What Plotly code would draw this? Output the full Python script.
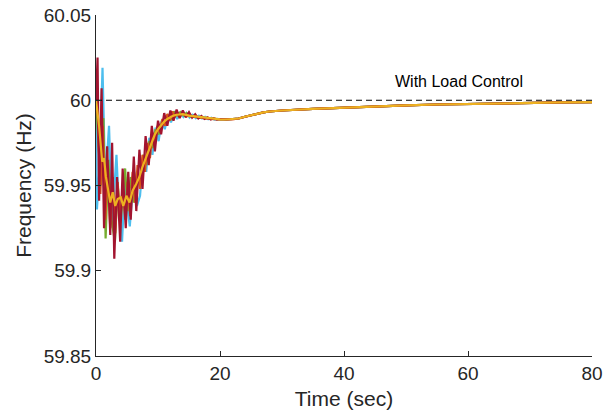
import plotly.graph_objects as go

# ---- data ----
tail_t = [21, 22, 23, 24, 25, 26, 27, 28, 30, 35, 40, 45, 50, 55, 60, 65, 70, 75, 80]
tail_f = [59.9887, 59.9888, 59.9893, 59.9903, 59.9913, 59.9922, 59.9929, 59.9934, 59.9940,
          59.9950, 59.9958, 59.9965, 59.9970, 59.9975, 59.9979, 59.9982, 59.9985, 59.9987, 59.9989]

lb_t = [0, 0.15, 0.6, 1.05, 1.5, 2.1, 2.6, 3.0, 3.3, 3.7, 4.2, 4.7, 5.0, 5.45, 6.0, 6.6, 7.1, 7.6, 8.1, 8.6,
        9.1, 9.6, 10.1, 10.6, 11.1, 11.6, 12.1, 12.6, 13.1, 13.6, 14.1, 14.6, 15.1, 15.6, 16.1, 16.6, 17.1,
        17.6, 18.1, 18.6, 19.1, 19.6, 20]
lb_f = [60.000, 59.936, 59.962, 60.019, 59.950, 59.985, 59.928, 59.948, 59.968, 59.935,
        59.917, 59.955, 59.940, 59.926, 59.952, 59.938, 59.944, 59.966, 59.958, 59.978,
        59.968, 59.984, 59.976, 59.988, 59.983, 59.9915, 59.987, 59.993, 59.989, 59.9925,
        59.9902, 59.9925, 59.9898, 59.9915, 59.9895, 59.9910, 59.9893, 59.9903, 59.9889, 59.9897,
        59.9887, 59.9891, 59.9888]

g_t = [0, 0.4, 0.8, 1.2, 1.55, 2.0, 2.5, 3.05, 3.5, 4.0, 4.7, 5.1, 5.6, 6.1, 6.6, 7.1, 7.6, 8.1, 8.6, 9.1,
       9.6, 10.1, 10.6, 11.1, 11.6, 12.1, 12.6, 13.1, 13.6, 14.1, 14.6, 15.1, 16, 17, 18, 19, 20]
g_f = [60.000, 59.972, 59.950, 59.9895, 59.919, 59.965, 59.930, 59.917, 59.950, 59.930,
       59.960, 59.935, 59.955, 59.940, 59.958, 59.950, 59.968, 59.962, 59.976, 59.972,
       59.983, 59.980, 59.987, 59.986, 59.991, 59.989, 59.9935, 59.991, 59.993, 59.991,
       59.9925, 59.9905, 59.9902, 59.9897, 59.9892, 59.9889, 59.9888]

dr_t = [0, 0.25, 0.5, 0.9, 1.3, 1.8, 2.3, 2.6, 2.95, 3.4, 3.9, 4.3, 4.8, 5.2, 5.6, 6.1, 6.5, 7.0, 7.5, 8.0,
        8.5, 9.0, 9.5, 10.0, 10.5, 11.0, 11.5, 12.0, 12.5, 13.0, 13.5, 14.0, 14.5, 15.0, 15.5, 16.0, 16.5,
        17.0, 17.5, 18.0, 18.5, 19.0, 19.5, 20.0]
dr_f = [60.000, 60.025, 59.941, 60.007, 59.925, 59.973, 59.921, 59.975, 59.907, 59.955,
        59.917, 59.960, 59.925, 59.958, 59.930, 59.967, 59.935, 59.971, 59.948, 59.979,
        59.962, 59.985, 59.970, 59.988, 59.980, 59.9925, 59.985, 59.994, 59.988, 59.9945,
        59.9895, 59.994, 59.990, 59.993, 59.9898, 59.9918, 59.9893, 59.9908, 59.9890, 59.9900,
        59.9887, 59.9895, 59.9887, 59.9890]

o_t = [0, 0.3, 0.7, 1.1, 1.5, 1.9, 2.3, 2.7, 3.1, 3.5, 3.9, 4.3, 4.7, 5.1, 5.5, 5.9, 6.3, 6.7, 7.1, 7.5,
       7.9, 8.3, 8.7, 9.1, 9.5, 9.9, 10.3, 10.7, 11.1, 11.5, 11.9, 12.3, 12.7, 13.1, 13.5, 14, 14.5, 15,
       16, 17, 18, 19, 20]
o_f = [60.000, 59.990, 59.945, 59.985, 59.930, 59.960, 59.925, 59.955, 59.922, 59.952,
       59.928, 59.950, 59.930, 59.952, 59.932, 59.958, 59.940, 59.962, 59.948, 59.968,
       59.958, 59.975, 59.966, 59.981, 59.974, 59.985, 59.981, 59.989, 59.985, 59.992,
       59.988, 59.9935, 59.990, 59.993, 59.9905, 59.9925, 59.9905, 59.991, 59.9902, 59.9896,
       59.9892, 59.9889, 59.9888]

y_t = [0, 0.5, 1.0, 1.3, 1.6, 2.0, 2.3, 2.7, 3.1, 3.5, 4.0, 4.4, 4.9, 5.4, 5.9, 6.5, 7.0, 7.5, 8.0, 8.5,
       9.0, 9.5, 10, 10.5, 11, 11.5, 12, 12.5, 13, 14, 15, 16, 17, 18, 19, 20]
y_f = [60.000, 59.985, 59.964, 59.966, 59.955, 59.945, 59.940, 59.946, 59.938, 59.942,
       59.943, 59.938, 59.944, 59.940, 59.947, 59.951, 59.955, 59.961, 59.966, 59.971,
       59.976, 59.980, 59.983, 59.9855, 59.9875, 59.989, 59.990, 59.991, 59.9915, 59.9918,
       59.991, 59.9905, 59.990, 59.9895, 59.989, 59.9888]

ref_t = [0, 80]
ref_f = [60, 60]
note_text = "With Load Control"
note_t, note_f = 47.9, 60.0108

x_ticks = [0, 20, 40, 60, 80]
y_ticks = [59.85, 59.9, 59.95, 60, 60.05]
y_ticklabels = ["59.85", "59.9", "59.95", "60", "60.05"]

series = [
    (lb_t, lb_f, "#4DBEEE"),
    (g_t, g_f, "#77AC30"),
    (o_t, o_f, "#D95319"),
    (dr_t, dr_f, "#A2142F"),
    (y_t, y_f, "#EDB120"),
]

fig = go.Figure()
for t, f, c in series:
    fig.add_trace(go.Scatter(x=t + tail_t, y=f + tail_f, mode="lines",
                             line=dict(color=c, width=2.2), showlegend=False, hoverinfo="skip"))

fig.add_trace(go.Scatter(x=ref_t, y=ref_f, mode="lines",
                         line=dict(color="black", width=1, dash="6px,4px"), showlegend=False))

fig.add_annotation(x=note_t, y=note_f, text=note_text, showarrow=False, xanchor="left",
                   yanchor="middle", font=dict(family="Liberation Sans, Arial", size=16, color="black"))

axis_font = dict(family="Liberation Sans, Arial", size=19, color="#262626")
title_font = dict(family="Liberation Sans, Arial", size=21, color="#262626")

fig.update_layout(
    width=616, height=414,
    margin=dict(l=96, r=24, t=15, b=58, autoexpand=False),
    paper_bgcolor="white", plot_bgcolor="white",
    xaxis=dict(range=[0, 80], tickvals=x_ticks, ticks="inside", ticklen=5, tickcolor="#262626",
               showline=True, linecolor="#262626", linewidth=1, showgrid=False, zeroline=False,
               automargin=False, tickfont=axis_font, ticklabeloverflow="allow",
               title=dict(text="Time (sec)", font=title_font, standoff=8)),
    yaxis=dict(range=[59.85, 60.05], tickvals=y_ticks, ticktext=y_ticklabels, ticks="inside",
               ticklen=5, tickcolor="#262626", showline=True, linecolor="#262626", linewidth=1,
               showgrid=False, zeroline=False, automargin=False, tickfont=axis_font,
               ticklabeloverflow="allow",
               title=dict(text="Frequency (Hz)", font=title_font, standoff=6)),
)

fig.write_html("out.html", config={"displayModeBar": False},
               post_script="document.body.style.margin='0px';document.body.style.overflow='hidden';")
